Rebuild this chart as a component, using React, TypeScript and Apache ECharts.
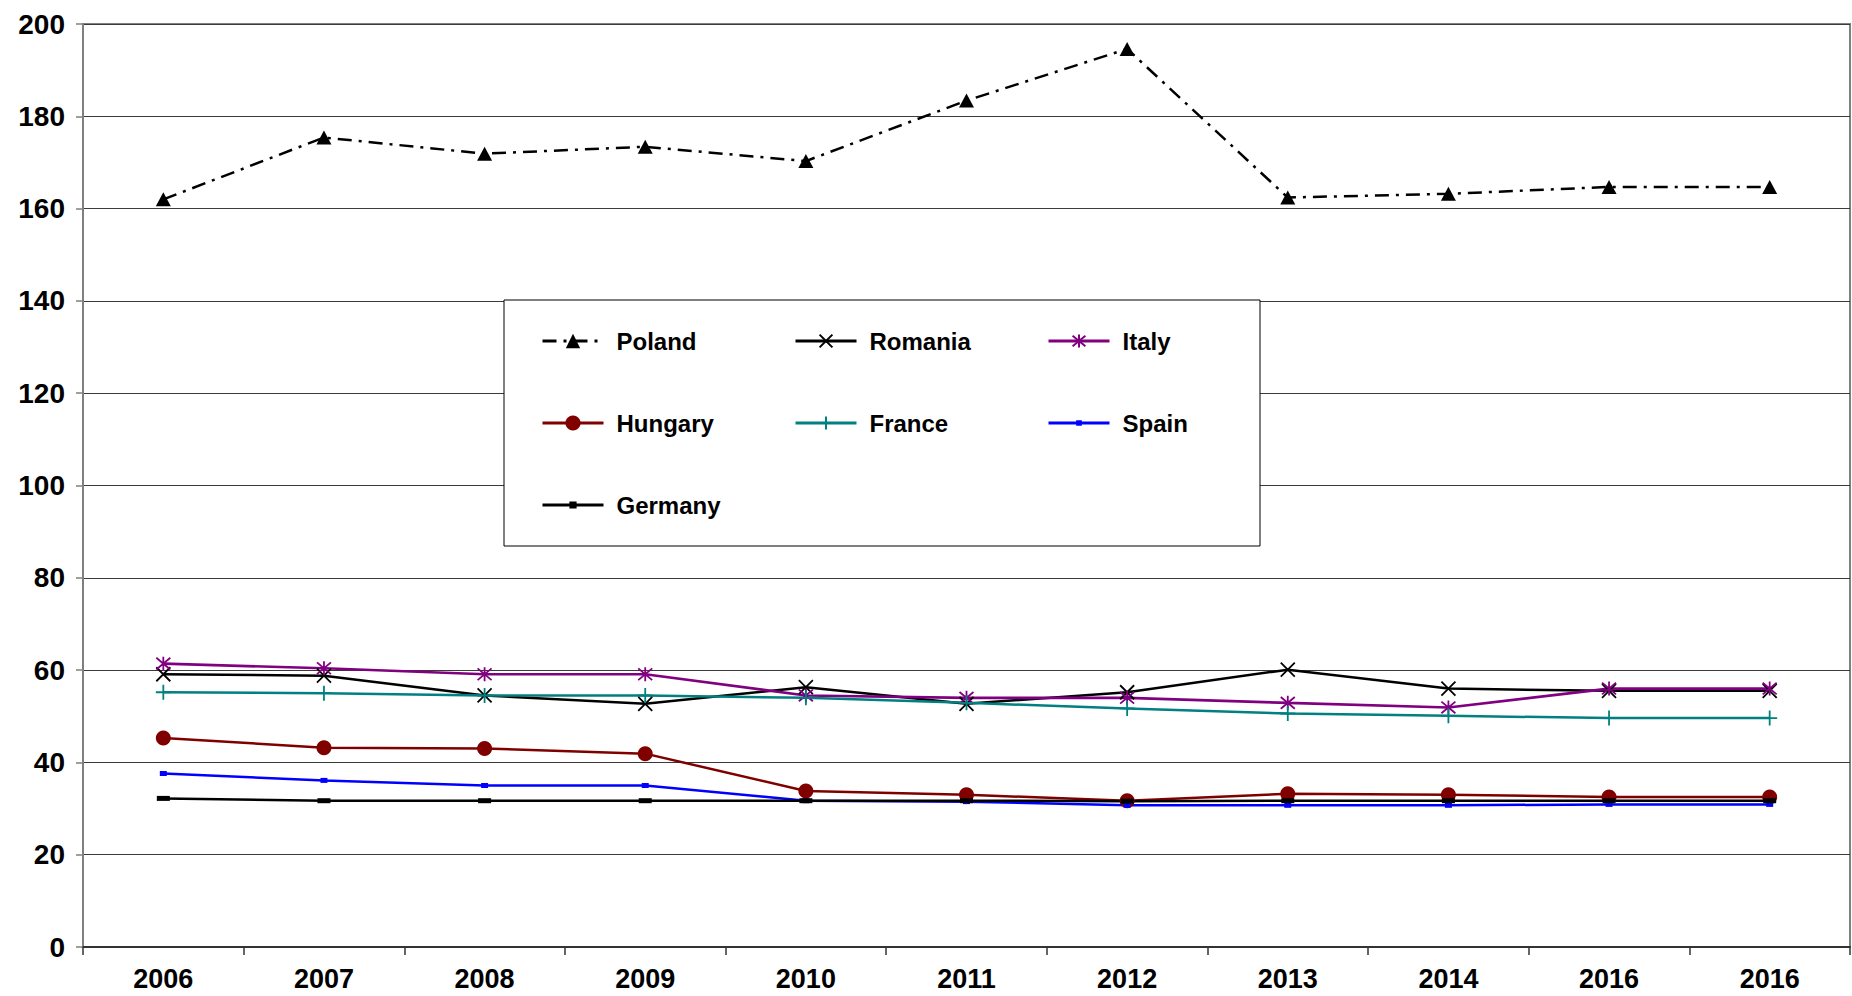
import React, { useEffect, useRef } from "react";
import * as echarts from "echarts";

const categories = ["2006", "2007", "2008", "2009", "2010", "2011", "2012", "2013", "2014", "2016", "2016"];
const yTicks = { min: 0, max: 200, interval: 20 };

const poland = [162.0, 175.4, 171.9, 173.4, 170.3, 183.4, 194.6, 162.4, 163.2, 164.7, 164.7];
const romania = [59.1, 58.8, 54.5, 52.7, 56.3, 52.7, 55.2, 60.1, 56.0, 55.5, 55.5];
const italy = [61.4, 60.4, 59.1, 59.1, 54.5, 54.0, 54.0, 52.9, 51.9, 56.0, 56.0];
const hungary = [45.3, 43.2, 43.0, 41.9, 33.8, 33.0, 31.7, 33.2, 33.0, 32.5, 32.5];
const france = [55.2, 55.0, 54.5, 54.5, 54.0, 52.9, 51.7, 50.6, 50.1, 49.6, 49.6];
const spain = [37.6, 36.1, 35.0, 35.0, 31.7, 31.5, 30.7, 30.7, 30.7, 30.9, 30.9];
const germany = [32.2, 31.7, 31.7, 31.7, 31.7, 31.7, 31.6, 31.7, 31.7, 31.7, 31.7];

const FONT = '"Liberation Sans", Arial, Helvetica, sans-serif';

const X_PATH = "path://M0,0L10,10M10,0L0,10";
const STAR_PATH = "path://M0,0L10,10M10,0L0,10M5,-1L5,11";
const PLUS_PATH = "path://M5,0L5,10M0,5L10,5";

export default function App() {
  const ref = useRef<HTMLDivElement>(null);
  useEffect(() => {
    if (!ref.current) return;
    const chart = echarts.init(ref.current, null, { renderer: "svg" });

    const mk = (
      name: string,
      data: number[],
      color: string,
      symbol: string,
      symbolSize: any,
      lineType: any,
      width: number,
      stroke: boolean
    ) => ({
      name,
      type: "line",
      data,
      symbol,
      symbolSize,
      showSymbol: true,
      lineStyle: { color, width, type: lineType },
      itemStyle: stroke
        ? { color: "none", borderColor: color, borderWidth: 1.8 }
        : { color, borderColor: color, borderWidth: 0 },
      emphasis: { disabled: true },
    });

    const series = [
      mk("Poland", poland, "#000000", "triangle", [15, 14], [14, 7, 3, 7], 2.5, false),
      mk("Romania", romania, "#000000", X_PATH, 14, "solid", 2.5, true),
      mk("Italy", italy, "#800080", STAR_PATH, 14, "solid", 2.7, true),
      mk("Hungary", hungary, "#800000", "circle", 15, "solid", 2.5, false),
      mk("France", france, "#008080", PLUS_PATH, 15, "solid", 2.5, true),
      mk("Spain", spain, "#0000ff", "rect", [7, 5], "solid", 2.5, false),
      mk("Germany", germany, "#000000", "rect", [13, 5], "solid", 2.5, false),
    ];

    const colX = [541, 794, 1047];
    const rowY = [343, 425, 507];
    const legendNames = ["Poland", "Romania", "Italy", "Hungary", "France", "Spain", "Germany"];
    const legendIconH = [18, 16, 16, 19, 16, 7, 9];
    const legends = legendNames.map((n, i) => ({
      data: [n],
      left: colX[i % 3],
      top: rowY[Math.floor(i / 3)] - 14,
      padding: 0,
      itemWidth: 61,
      itemHeight: legendIconH[i],
      selectedMode: false,
      lineStyle: { width: 3 },
      textStyle: {
        fontFamily: FONT,
        fontWeight: "bold",
        fontSize: 24,
        color: "#000",
        padding: [0, 0, 0, 8],
      },
    }));

    chart.setOption({
      animation: false,
      backgroundColor: "#ffffff",
      grid: {
        left: 83,
        right: 2,
        top: 24,
        bottom: 49,
        show: true,
        borderColor: "#808080",
        borderWidth: 2,
        backgroundColor: "transparent",
      },
      legend: legends,
      graphic: [
        {
          type: "rect",
          shape: { x: 504, y: 300, width: 756, height: 246 },
          style: { fill: "#ffffff", stroke: "#000000", lineWidth: 1 },
          z: 3,
        },
      ],
      xAxis: {
        type: "category",
        data: categories,
        boundaryGap: true,
        axisLine: { show: true, lineStyle: { color: "#333333", width: 2 } },
        axisTick: { show: true, alignWithLabel: false, interval: 0, length: 8, lineStyle: { color: "#333333", width: 1.5 } },
        axisLabel: {
          interval: 0,
          margin: 18,
          fontFamily: FONT,
          fontWeight: "bold",
          fontSize: 27,
          color: "#000",
        },
        splitLine: { show: false },
      },
      yAxis: {
        type: "value",
        min: yTicks.min,
        max: yTicks.max,
        interval: yTicks.interval,
        axisLine: { show: true, lineStyle: { color: "#808080", width: 2 } },
        axisTick: { show: true, length: 7, lineStyle: { color: "#808080", width: 1.5 } },
        axisLabel: {
          margin: 18,
          fontFamily: FONT,
          fontWeight: "bold",
          fontSize: 28,
          color: "#000",
        },
        splitLine: { show: true, lineStyle: { color: "#3a3a3a", width: 1 } },
      },
      series,
    });
    return () => chart.dispose();
  }, []);
  return (
    <div
      ref={ref}
      style={{ position: "fixed", left: 0, top: 0, width: 1852, height: 996, background: "#fff" }}
    />
  );
}
